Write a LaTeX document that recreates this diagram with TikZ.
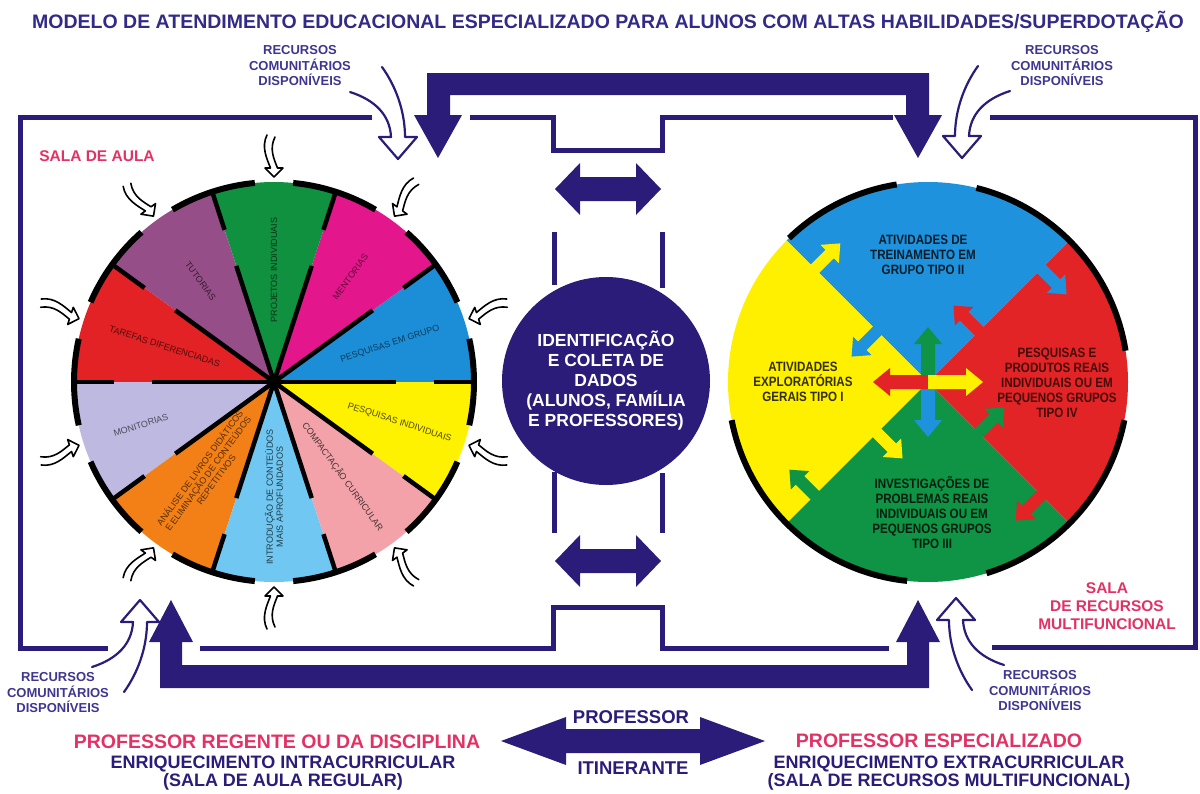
\documentclass[tikz,border=0pt]{standalone}
\usepackage{fontspec}
\setmainfont{Liberation Sans}
\newfontfamily\estreita[FakeStretch=0.86]{Liberation Sans}

\definecolor{marinho}{RGB}{42,28,120}
\definecolor{titulo}{RGB}{50,42,135}
\definecolor{recursos}{RGB}{62,54,145}
\definecolor{rosa}{RGB}{226,50,100}
% setores da sala de aula
\definecolor{azulS}{RGB}{28,142,216}
\definecolor{magentaS}{RGB}{228,22,140}
\definecolor{verdeS}{RGB}{16,145,64}
\definecolor{roxoS}{RGB}{150,78,136}
\definecolor{vermS}{RGB}{226,34,36}
\definecolor{lilasS}{RGB}{190,185,225}
\definecolor{laranjaS}{RGB}{242,128,22}
\definecolor{celesteS}{RGB}{112,200,242}
\definecolor{salmaoS}{RGB}{244,162,170}
\definecolor{amareloS}{RGB}{255,242,0}
% quadrantes da sala de recursos
\definecolor{azulR}{RGB}{30,146,220}
\definecolor{vermR}{RGB}{226,36,38}
\definecolor{verdeR}{RGB}{14,148,68}
\definecolor{amareloR}{RGB}{255,240,0}

\tikzset{
  linha/.style={marinho, line width=5pt},
  setor/.style={font=\fontsize{9}{10}\selectfont, align=center, inner sep=0pt},
  quadro/.style={font=\estreita\bfseries\fontsize{13.5}{15}\selectfont, align=center, inner sep=0pt},
  rotulo/.style={font=\bfseries\fontsize{13}{15.5}\selectfont, text=recursos, align=center, inner sep=0pt},
  sala/.style={font=\bfseries\fontsize{15.5}{18}\selectfont, text=rosa, align=center, inner sep=0pt},
  rodape/.style={font=\bfseries\fontsize{18}{18}\selectfont, text=marinho, align=center, inner sep=0pt},
  % seta vazada dos recursos comunitarios (ponta em 0,0, para baixo)
  recurso/.pic={
    \draw[marinho, line width=2.2pt, line join=round, line cap=round]
      (-48,67) .. controls (-23,59) and (-8,44) .. (-7,22) -- (-19,22) -- (0,0)
      -- (19,22) -- (7,22) .. controls (7,49) and (-3,74) .. (-16,92);
  },
  % seta pequena em volta do circulo (ponta em 0,0, para +x)
  seta/.pic={
    \draw[black, line width=1.6pt, line join=round, line cap=round]
      (-42,7) .. controls (-30,13) and (-18,7) .. (-9,3.5) -- (-9,9) -- (0,0)
      -- (-9,-9) -- (-9,-3.5) .. controls (-18,0) and (-28,5) .. (-40,-1);
  },
  % aba entre quadrantes
  aba/.pic={
    \fill (-16,-6) -- (21,-6) -- (21,-13) -- (36,0) -- (21,13) -- (21,6) -- (-16,6) -- cycle;
  },
  % seta do centro da sala de recursos
  central/.pic={
    \fill (0,-7) -- (38,-7) -- (38,-14) -- (55,0) -- (38,14) -- (38,7) -- (0,7) -- cycle;
  },
  duplaseta/.pic={
    \fill (-53,0) -- (-28,26) -- (-28,12) -- (28,12) -- (28,26) -- (53,0)
      -- (28,-26) -- (28,-12) -- (-28,-12) -- (-28,-26) -- cycle;
  },
}

\begin{document}
\begin{tikzpicture}[x=1pt, y=1pt]
\useasboundingbox (0,0) rectangle (1200,-793);

\node[font=\bfseries\fontsize{19.5}{20}\selectfont, text=titulo] (titulo) at (608,-22)
  {MODELO DE ATENDIMENTO EDUCACIONAL ESPECIALIZADO PARA ALUNOS COM ALTAS HABILIDADES/SUPERDOTAÇÃO};

% contorno das duas salas
\draw[linha] (372,-117) -- (20,-117) -- (20,-648) -- (108,-648);
\draw[linha] (200,-648) -- (553,-648) -- (553,-607) -- (662,-607) -- (662,-648) -- (889,-648);
\draw[linha] (470,-117) -- (553,-117) -- (553,-150) -- (662,-150) -- (662,-117) -- (893,-117);
\draw[linha] (990,-117) -- (1195,-117) -- (1195,-647) -- (992,-647);
\draw[linha] (554,-232) -- (554,-285);
\draw[linha] (662,-232) -- (662,-288);
\draw[linha] (554,-472) -- (554,-533);
\draw[linha] (662,-473) -- (662,-533);

% barras grossas com setas
\fill[marinho] (427,-73) -- (929,-73) -- (929,-115) -- (942,-115) -- (918,-158) -- (894,-115)
  -- (906,-115) -- (906,-95) -- (450,-95) -- (450,-115) -- (462,-115) -- (438,-158)
  -- (414,-115) -- (427,-115) -- cycle;
\fill[marinho] (160,-688) -- (929,-688) -- (929,-642) -- (940,-642) -- (918,-600) -- (896,-642)
  -- (907,-642) -- (907,-665) -- (182,-665) -- (182,-642) -- (193,-642) -- (171,-600)
  -- (149,-642) -- (160,-642) -- cycle;
\pic[marinho] at (608,-189) {duplaseta};
\pic[marinho] at (608,-561) {duplaseta};

% recursos comunitarios
\node[rotulo] (rec1) at (300,-66) {RECURSOS\\COMUNITÁRIOS\\DISPONÍVEIS};
\node[rotulo] (rec2) at (1062,-66) {RECURSOS\\COMUNITÁRIOS\\DISPONÍVEIS};
\node[rotulo] (rec3) at (58,-693) {RECURSOS\\COMUNITÁRIOS\\DISPONÍVEIS};
\node[rotulo] (rec4) at (1040,-691) {RECURSOS\\COMUNITÁRIOS\\DISPONÍVEIS};
\pic at (398,-159) {recurso};
\pic[xscale=-1] at (962,-158) {recurso};
\pic[yscale=-1] at (140,-600) {recurso};
\pic[xscale=-1, yscale=-1] at (956,-598) {recurso};

\node[sala] (aula) at (97,-156) {SALA DE AULA};
\node[sala] (multi) at (1107,-606) {SALA\\DE RECURSOS\\MULTIFUNCIONAL};

% circulo da sala de aula
\begin{scope}[shift={(274,-382)}]
  \foreach \a/\cor in {0/azulS, 36/magentaS, 72/verdeS, 108/roxoS, 144/vermS,
                       180/lilasS, 216/laranjaS, 252/celesteS, 288/salmaoS, 324/amareloS}
    \fill[\cor] (0,0) -- (\a:200) arc[start angle=\a, end angle=\a+36, radius=200] -- cycle;
  \foreach \a in {0,36,...,324}{
    \draw[line width=4.5pt] (0,0) -- (\a:122);
    \draw[line width=4.5pt] (\a:160) -- (\a:200);
    \draw[line width=6pt] (\a-12.5:200) arc[start angle=\a-12.5, end angle=\a+12.5, radius=200];
  }
  \fill (0,0) circle (6);
  \node[setor, text=azulS!40!black, rotate=18] (pgrupo) at (18:122) {PESQUISAS EM GRUPO};
  \node[setor, text=magentaS!40!black, rotate=54] (mentorias) at (54:130) {MENTORIAS};
  \node[setor, text=verdeS!35!black, rotate=90] (projetos) at (90:112) {PROJETOS INDIVIDUAIS};
  \node[setor, text=roxoS!35!black, rotate=-54] (tutorias) at (126:125) {TUTORIAS};
  \node[setor, text=vermS!35!black, rotate=-18] (tarefas) at (162:115) {TAREFAS DIFERENCIADAS};
  \node[setor, text=lilasS!40!black, rotate=18] (monitorias) at (198:140) {MONITORIAS};
  \node[setor, text=laranjaS!35!black, rotate=54] (analise) at (234:113)
    {ANÁLISE DE LIVROS DIDÁTICOS\\E ELIMINAÇÃO DE CONTEÚDOS\\REPETITIVOS};
  \node[setor, text=celesteS!30!black, rotate=90] (introducao) at (270:115)
    {INTRODUÇÃO DE CONTEÚDOS\\MAIS APROFUNDADOS};
  \node[setor, text=salmaoS!30!black, rotate=-54] (compactacao) at (306:117) {COMPACTAÇÃO CURRICULAR};
  \node[setor, text=amareloS!30!black, rotate=-18] (pindividuais) at (342:132) {PESQUISAS INDIVIDUAIS};
  \foreach \a/\s in {18/-1, 54/-1, 90/-1, 126/-1, 162/1, 198/-1, 234/1, 270/1, 306/1, 342/1}
    \pic[rotate=\a+180, yscale=\s] at (\a:205) {seta};
\end{scope}

% circulo da sala de recursos
\begin{scope}[shift={(928,-382)}]
  \fill[azulR] (0,0) -- (45:200) arc[start angle=45, end angle=135, radius=200] -- cycle;
  \fill[amareloR] (0,0) -- (135:200) arc[start angle=135, end angle=225, radius=200] -- cycle;
  \fill[verdeR] (0,0) -- (225:200) arc[start angle=225, end angle=315, radius=200] -- cycle;
  \fill[vermR] (0,0) -- (-45:200) arc[start angle=-45, end angle=45, radius=200] -- cycle;
  \pic[amareloR, rotate=45] at (135:160) {aba};
  \pic[azulR, rotate=225] at (135:72) {aba};
  \pic[azulR, rotate=-45] at (45:160) {aba};
  \pic[vermR, rotate=135] at (45:72) {aba};
  \pic[vermR, rotate=-135] at (-45:160) {aba};
  \pic[verdeR, rotate=45] at (-45:72) {aba};
  \pic[verdeR, rotate=135] at (225:160) {aba};
  \pic[amareloR, rotate=-45] at (225:72) {aba};
  \pic[verdeR, rotate=90] at (0,0) {central};
  \pic[azulR, rotate=-90] at (0,0) {central};
  \pic[vermR, rotate=180] at (0,0) {central};
  \pic[amareloR] at (0,0) {central};
  \foreach \i/\f in {9/76, 99/134, 191/264, 287/349}
    \draw[line width=6pt] (\i:200) arc[start angle=\i, end angle=\f, radius=200];
  \node[quadro, text=azulR!20!black] (tipo2) at (-5,127) {ATIVIDADES DE\\TREINAMENTO EM\\GRUPO TIPO II};
  \node[quadro, text=amareloR!20!black] (tipo1) at (-125,0) {ATIVIDADES\\EXPLORATÓRIAS\\GERAIS TIPO I};
  \node[quadro, text=vermR!30!black] (tipo4) at (129,-1)
    {PESQUISAS E\\PRODUTOS REAIS\\INDIVIDUAIS OU EM\\PEQUENOS GRUPOS\\TIPO IV};
  \node[quadro, text=verdeR!20!black] (tipo3) at (4,-131)
    {INVESTIGAÇÕES DE\\PROBLEMAS REAIS\\INDIVIDUAIS OU EM\\PEQUENOS GRUPOS\\TIPO III};
\end{scope}

\node[circle, fill=marinho, minimum size=208pt, inner sep=0pt, text=white, align=center,
  font=\bfseries\fontsize{17.5}{20}\selectfont] (dados) at (606,-381)
  {IDENTIFICAÇÃO\\E COLETA DE\\DADOS\\(ALUNOS, FAMÍLIA\\E PROFESSORES)};

% professor itinerante
\fill[marinho] (501,-741) -- (566,-717) -- (566,-729) -- (700,-729) -- (700,-717) -- (765,-741)
  -- (700,-765) -- (700,-753) -- (566,-753) -- (566,-765) -- cycle;
\node[rodape, font=\bfseries\fontsize{18.5}{18}\selectfont] (prof) at (631,-717) {PROFESSOR};
\node[rodape, font=\bfseries\fontsize{18.5}{18}\selectfont] (itin) at (633,-768) {ITINERANTE};

\node[rodape, text=rosa, font=\bfseries\fontsize{19.5}{18}\selectfont] (regente) at (277,-742)
  {PROFESSOR REGENTE OU DA DISCIPLINA};
\node[rodape] (intra) at (283,-773) {ENRIQUECIMENTO INTRACURRICULAR\\(SALA DE AULA REGULAR)};
\node[rodape, text=rosa, font=\bfseries\fontsize{19.5}{18}\selectfont] (especial) at (939,-741)
  {PROFESSOR ESPECIALIZADO};
\node[rodape] (extra) at (949,-773) {ENRIQUECIMENTO EXTRACURRICULAR\\(SALA DE RECURSOS MULTIFUNCIONAL)};
\end{tikzpicture}
\end{document}
